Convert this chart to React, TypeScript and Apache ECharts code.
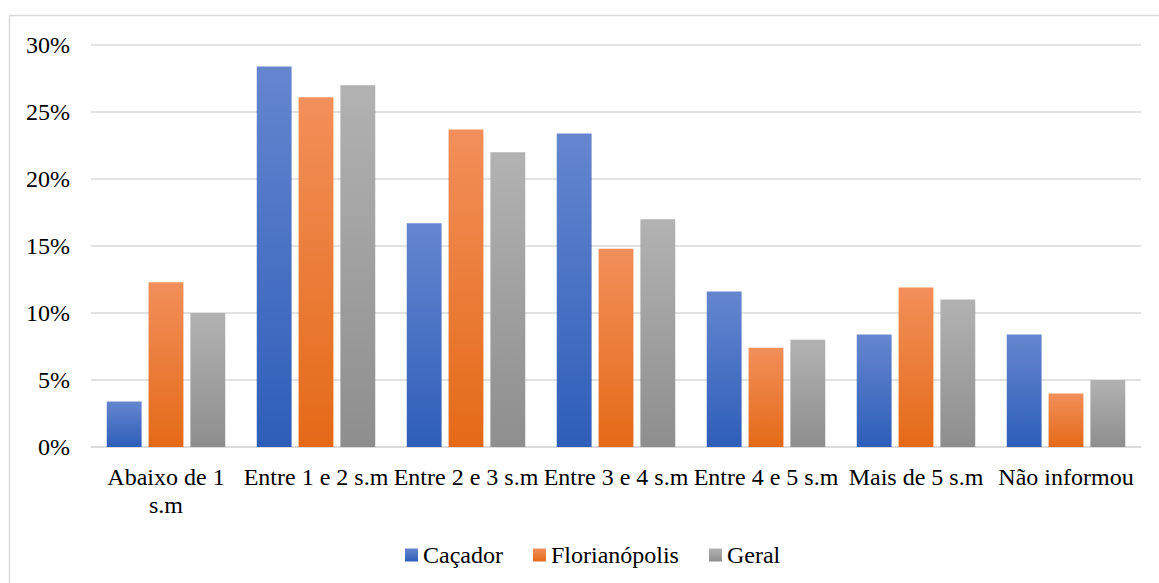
import React, { useEffect, useRef } from "react";
import * as echarts from "echarts";

const categories = [
  "Abaixo de 1\ns.m",
  "Entre 1 e 2 s.m",
  "Entre 2 e 3 s.m",
  "Entre 3 e 4 s.m",
  "Entre 4 e 5 s.m",
  "Mais de 5 s.m",
  "Não informou",
];
const cacador = [3.4, 28.4, 16.7, 23.4, 11.6, 8.4, 8.4];
const florianopolis = [12.3, 26.1, 23.7, 14.8, 7.4, 11.9, 4.0];
const geral = [10.0, 27.0, 22.0, 17.0, 8.0, 11.0, 5.0];
const yTicks = [0, 5, 10, 15, 20, 25, 30];

const grad = (top: string, bottom: string) =>
  new echarts.graphic.LinearGradient(0, 0, 0, 1, [
    { offset: 0, color: top },
    { offset: 1, color: bottom },
  ]);

export default function App() {
  const ref = useRef<HTMLDivElement>(null);
  useEffect(() => {
    if (!ref.current) return;
    const chart = echarts.init(ref.current, null, { renderer: "svg" });
    const font = "Times New Roman, Liberation Serif, serif";
    const mk = (name: string, data: number[], top: string, bottom: string) => ({
      name,
      type: "bar",
      data,
      barGap: "20%",
      barCategoryGap: "21%",
      itemStyle: { color: grad(top, bottom) },
    });
    chart.setOption({
      animation: false,
      textStyle: { fontFamily: font },
      graphic: [
        {
          type: "rect",
          shape: { x: 9.5, y: 15.5, width: 1160, height: 580 },
          style: { fill: "none", stroke: "#D9D9D9", lineWidth: 1.5 },
          silent: true,
        },
      ],
      grid: { left: 91, right: 18, top: 45, bottom: 136 },
      legend: {
        bottom: 11,
        left: 400,
        itemWidth: 13,
        itemHeight: 13,
        itemGap: 30,
        icon: "rect",
        textStyle: { fontFamily: font, fontSize: 24, color: "#000" },
        data: ["Caçador", "Florianópolis", "Geral"],
      },
      xAxis: {
        type: "category",
        data: categories,
        axisLine: { lineStyle: { color: "#D9D9D9", width: 1.5 } },
        axisTick: { show: false },
        axisLabel: {
          fontFamily: font,
          fontSize: 24,
          color: "#000",
          margin: 16,
          lineHeight: 28,
          interval: 0,
        },
      },
      yAxis: {
        type: "value",
        min: yTicks[0],
        max: yTicks[yTicks.length - 1],
        interval: 5,
        axisLine: { show: false },
        axisTick: { show: false },
        splitLine: { lineStyle: { color: "#D9D9D9", width: 1.5 } },
        axisLabel: {
          fontFamily: font,
          fontSize: 24,
          color: "#000",
          margin: 21,
          formatter: (v: number) => `${v}%`,
        },
      },
      series: [
        mk("Caçador", cacador, "#6586CF", "#2E5EB9"),
        mk("Florianópolis", florianopolis, "#F28F5A", "#E46A17"),
        mk("Geral", geral, "#B2B2B2", "#8E8E8E"),
      ],
    });
    return () => chart.dispose();
  }, []);
  return (
    <div
      ref={ref}
      style={{ position: "absolute", left: 0, top: 0, width: 1159, height: 583, background: "#fff" }}
    />
  );
}
